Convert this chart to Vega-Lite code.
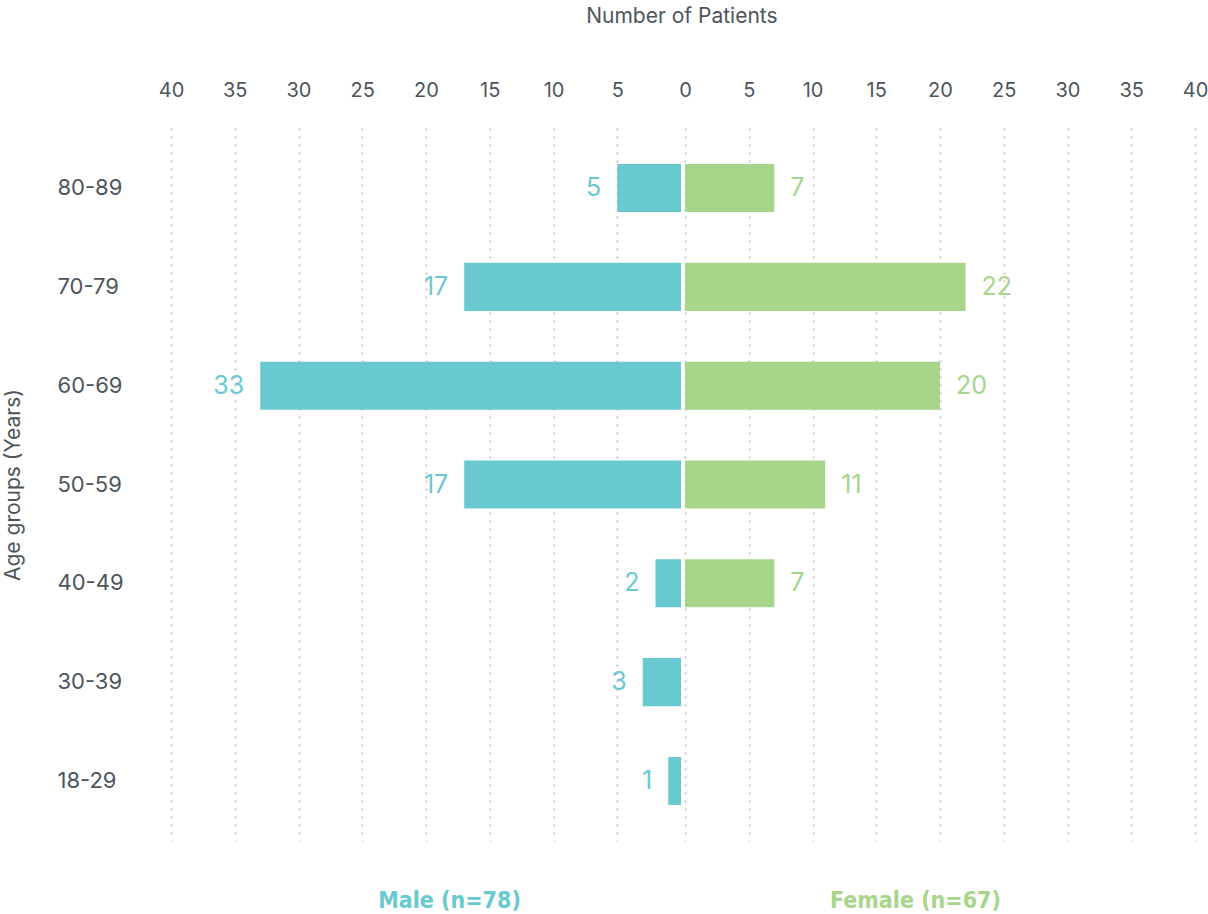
{
  "$schema": "https://vega.github.io/schema/vega-lite/v6.json",
  "background": "white",
  "padding": {"left": 2, "top": 6, "right": 5, "bottom": 2},
  "bounds": "flush",
  "config": {
    "view": {"stroke": null},
    "font": "Inter",
    "axis": {
      "labelColor": "#4d555c",
      "titleColor": "#4d555c",
      "labelFont": "Inter",
      "titleFont": "Inter",
      "titleFontWeight": "normal",
      "gridColor": "#c8c8c8",
      "gridDash": [2, 6],
      "gridWidth": 2,
      "domain": false,
      "ticks": false,
      "labelFlush": false
    }
  },
  "title": {
    "text": "Number of Patients",
    "fontSize": 21,
    "fontWeight": "normal",
    "color": "#4d555c",
    "font": "Inter",
    "anchor": "middle",
    "dx": 77,
    "offset": 53
  },
  "data": {
    "values": [
      {"age": "80-89", "male": 5, "female": 7},
      {"age": "70-79", "male": 17, "female": 22},
      {"age": "60-69", "male": 33, "female": 20},
      {"age": "50-59", "male": 17, "female": 11},
      {"age": "40-49", "male": 2, "female": 7},
      {"age": "30-39", "male": 3, "female": 0},
      {"age": "18-29", "male": 1, "female": 0}
    ]
  },
  "spacing": 4,
  "hconcat": [
    {
      "width": 510,
      "height": 713,
      "encoding": {
        "y": {
          "field": "age",
          "type": "nominal",
          "sort": ["80-89", "70-79", "60-69", "50-59", "40-49", "30-39", "18-29"],
          "scale": {"paddingInner": 0.514, "paddingOuter": 0.365},
          "axis": {
            "title": "Age groups (Years)",
            "titleFontSize": 21,
            "labelFontSize": 22,
            "labelAlign": "left",
            "labelPadding": 114,
            "titlePadding": 34
          }
        }
      },
      "resolve": {"axis": {"x": "independent"}},
      "layer": [
        {
          "mark": {"type": "bar", "color": "#69c9d0"},
          "encoding": {
            "x": {
              "field": "male",
              "type": "quantitative",
              "scale": {"domain": [0, 40], "reverse": true, "nice": false},
              "axis": {
                "orient": "top",
                "title": null,
                "values": [5, 10, 15, 20, 25, 30, 35, 40],
                "labelFontSize": 20,
                "labelPadding": 28
              }
            }
          }
        },
        {
          "mark": {"type": "text", "color": "#69c9d0", "align": "right", "baseline": "middle", "dx": -16, "fontSize": 25, "font": "Inter"},
          "encoding": {
            "x": {
              "field": "male",
              "type": "quantitative",
              "axis": {
                "orient": "bottom",
                "labels": false,
                "grid": false,
                "title": "Male (n=78)",
                "titleColor": "#69c9d0",
                "titleFontWeight": "bold",
                "titleFont": "DejaVu Sans Condensed",
                "titleFontSize": 23,
                "titlePadding": 48,
                "titleX": 278
              }
            },
            "text": {"field": "male", "type": "quantitative"}
          }
        }
      ]
    },
    {
      "width": 510,
      "height": 713,
      "transform": [{"filter": "datum.female > 0"}],
      "encoding": {
        "y": {
          "field": "age",
          "type": "nominal",
          "sort": ["80-89", "70-79", "60-69", "50-59", "40-49", "30-39", "18-29"],
          "scale": {"domain": ["80-89", "70-79", "60-69", "50-59", "40-49", "30-39", "18-29"], "paddingInner": 0.514, "paddingOuter": 0.365},
          "axis": null
        }
      },
      "resolve": {"axis": {"x": "independent"}},
      "layer": [
        {
          "mark": {"type": "bar", "color": "#a7d58a"},
          "encoding": {
            "x": {
              "field": "female",
              "type": "quantitative",
              "scale": {"domain": [0, 40], "nice": false},
              "axis": {
                "orient": "top",
                "title": null,
                "values": [0, 5, 10, 15, 20, 25, 30, 35, 40],
                "labelFontSize": 20,
                "labelPadding": 28
              }
            }
          }
        },
        {
          "mark": {"type": "text", "color": "#a7d58a", "align": "left", "baseline": "middle", "dx": 16, "fontSize": 25, "font": "Inter"},
          "encoding": {
            "x": {
              "field": "female",
              "type": "quantitative",
              "axis": {
                "orient": "bottom",
                "labels": false,
                "grid": false,
                "title": "Female (n=67)",
                "titleColor": "#a7d58a",
                "titleFontWeight": "bold",
                "titleFont": "DejaVu Sans Condensed",
                "titleFontSize": 23,
                "titlePadding": 48,
                "titleX": 230
              }
            },
            "text": {"field": "female", "type": "quantitative"}
          }
        }
      ]
    }
  ]
}
